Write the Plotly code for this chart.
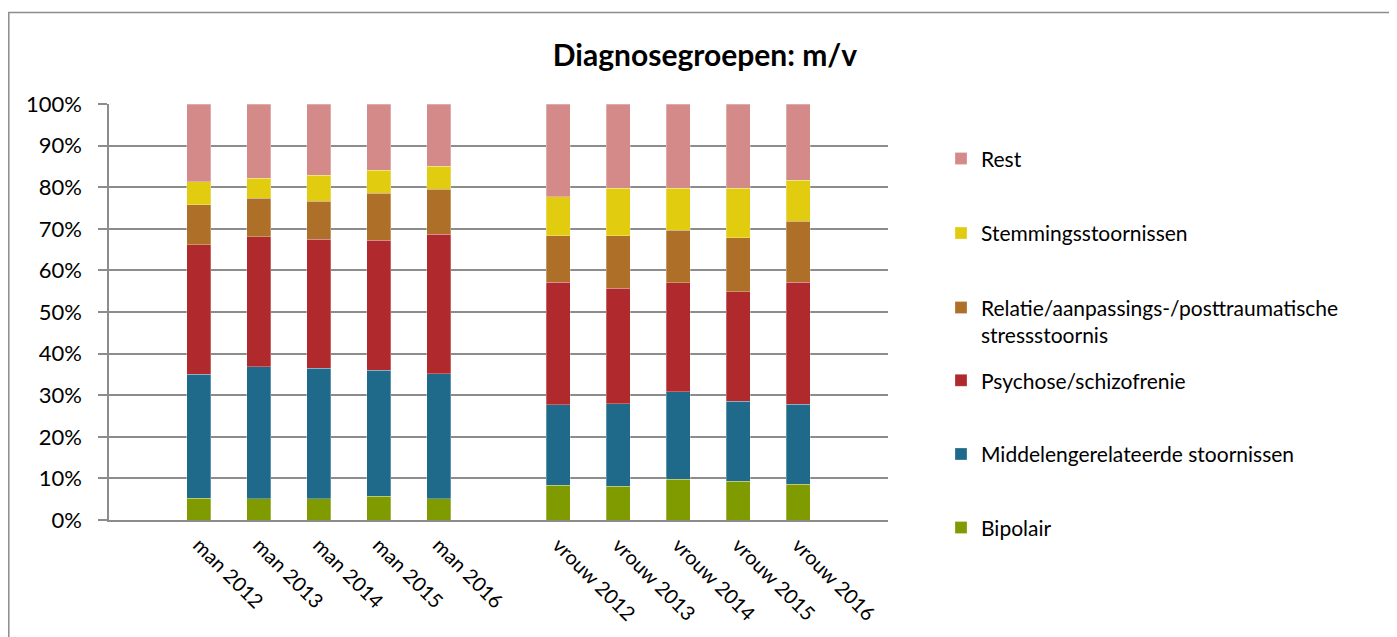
import plotly.graph_objects as go

# Category slots (blank slots keep the gaps of the original chart)
slots = [" ", "man 2012", "man 2013", "man 2014", "man 2015", "man 2016", "  ",
         "vrouw 2012", "vrouw 2013", "vrouw 2014", "vrouw 2015", "vrouw 2016", "   "]
categories = ["man 2012", "man 2013", "man 2014", "man 2015", "man 2016",
              "vrouw 2012", "vrouw 2013", "vrouw 2014", "vrouw 2015", "vrouw 2016"]

# Shares (%) per diagnosis group
bipolair = [5.2, 5.1, 5.1, 5.7, 5.1, 8.4, 8.1, 9.8, 9.3, 8.6]
middelen = [29.8, 31.7, 31.4, 30.3, 30.0, 19.3, 19.8, 21.0, 19.2, 19.2]
psychose = [31.2, 31.3, 31.0, 31.3, 33.6, 29.5, 27.8, 26.2, 26.4, 29.3]
relatie = [9.6, 9.3, 9.1, 11.2, 10.8, 11.1, 12.6, 12.7, 12.9, 14.7]
stemming = [5.5, 4.7, 6.3, 5.6, 5.5, 9.4, 11.4, 10.0, 12.0, 9.9]
rest = [18.7, 17.9, 17.1, 15.9, 15.0, 22.3, 20.3, 20.3, 20.2, 18.3]

series = [
    ("Bipolair", bipolair, "#7F9B00"),
    ("Middelengerelateerde stoornissen", middelen, "#1F6A8B"),
    ("Psychose/schizofrenie", psychose, "#B0292C"),
    ("Relatie/aanpassings-/posttraumatische<br>stressstoornis", relatie, "#AE7028"),
    ("Stemmingsstoornissen", stemming, "#E1CC10"),
    ("Rest", rest, "#D48A89"),
]

FONT = "Lato"
OFF = 8  # page body margin
W, H = 1397 - OFF, 637 - OFF
L, R, T, B = 109 - OFF, 888 - OFF, 104 - OFF, 522 - OFF  # plot area in figure pixels

# legend row centres (page pixels)
legend_y_px = [530, 456, 382, 322.5, 234, 159]
legend_x_px = 941 - OFF

fig = go.Figure()
layout_legends = {}
for i, (name, vals, col) in enumerate(series):
    key = "legend" if i == 0 else f"legend{i+1}"
    fig.add_trace(go.Bar(
        x=categories, y=vals, name=name, legend=key,
        marker=dict(color=col, line=dict(color="rgba(255,255,255,0.35)", width=0.8)),
        width=0.4,
    ))
    layout_legends[key] = dict(
        x=(legend_x_px - L) / (R - L),
        y=((B + OFF) - legend_y_px[i]) / (B - T),
        xanchor="left", yanchor="middle", valign="top",
        bgcolor="rgba(0,0,0,0)", borderwidth=0,
        font=dict(family=FONT, size=21, color="#000000"),
    )

fig.update_layout(
    width=W, height=H, autosize=False,
    margin=dict(l=L, r=W - R, t=T, b=H - B, pad=0),
    barmode="stack",
    paper_bgcolor="white", plot_bgcolor="white",
    font=dict(family=FONT, size=20, color="#000000"),
    title=dict(text="<b>Diagnosegroepen: m/v</b>", x=(705 - OFF) / W, xanchor="center",
               y=1 - (55 - OFF) / H, yanchor="middle",
               font=dict(family=FONT, size=30, color="#000000")),
    showlegend=True,
    **layout_legends,
)

fig.update_xaxes(
    type="category", categoryorder="array", categoryarray=slots,
    range=[-0.5, len(slots) - 0.5],
    tickmode="array", tickvals=categories, ticktext=categories,
    tickangle=45, ticks="", showgrid=False, ticklabelstandoff=4,
    showline=True, linecolor="#8c8c8c", linewidth=1.5,
    tickfont=dict(family=FONT, size=20, color="#000000"),
)
fig.update_yaxes(
    range=[0, 100], tickvals=[0, 10, 20, 30, 40, 50, 60, 70, 80, 90, 100],
    ticktext=[f"{v}%" for v in range(0, 101, 10)],
    showgrid=True, gridcolor="#8c8c8c", gridwidth=1.5,
    ticks="outside", ticklen=9, tickcolor="#8c8c8c", tickwidth=1.5,
    showline=True, linecolor="#8c8c8c", linewidth=1.5,
    zeroline=False, ticklabelstandoff=12,
    tickfont=dict(family=FONT, size=22, color="#000000"),
)

# outer chart border (left and top visible in the original)
fig.add_shape(type="rect", xref="paper", yref="paper",
              x0=(0.8 - L) / (R - L), x1=(W + 20 - L) / (R - L),
              y0=(B - (H + 20)) / (B - T), y1=(B - (12 - OFF)) / (B - T),
              line=dict(color="#8c8c8c", width=1.5), fillcolor="rgba(0,0,0,0)")

fig.write_html("out.html")
